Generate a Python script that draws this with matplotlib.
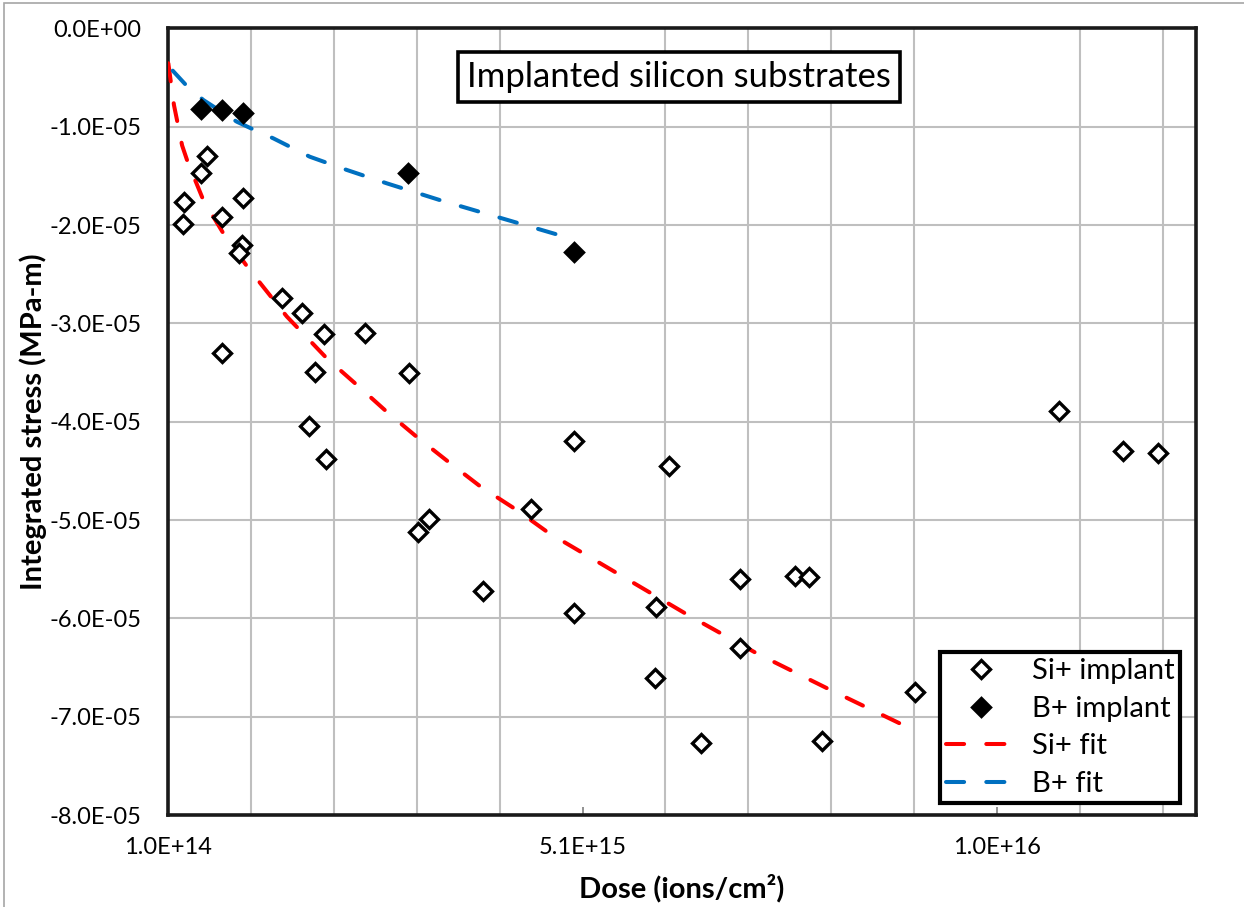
import matplotlib
matplotlib.use("Agg")
import matplotlib.pyplot as plt
from matplotlib.ticker import FixedLocator, MultipleLocator, FuncFormatter
from matplotlib.patches import Rectangle

# ---------------- data ----------------
si_dose = [2.78e14, 2.93e14, 4.95e14, 5.67e14, 7.49e14, 1.002e15, 9.90e14, 9.61e14,
           7.49e14, 1.473e15, 1.715e15, 1.976e15, 1.875e15, 2.479e15, 1.803e15, 2.005e15,
           3.002e15, 3.111e15, 3.244e15, 3.896e15, 4.484e15, 5.003e15, 4.995e15, 6.142e15,
           5.990e15, 5.973e15, 6.533e15, 7.000e15, 7.000e15, 7.660e15, 7.833e15, 7.983e15,
           9.110e15, 1.085e16, 1.1625e16, 1.204e16]
si_stress = [-1.990e-5, -1.763e-5, -1.474e-5, -1.298e-5, -1.916e-5, -1.722e-5, -2.203e-5, -2.288e-5,
             -3.305e-5, -2.746e-5, -2.895e-5, -3.109e-5, -3.492e-5, -3.102e-5, -4.045e-5, -4.377e-5,
             -3.503e-5, -5.126e-5, -4.991e-5, -5.720e-5, -4.892e-5, -4.197e-5, -5.950e-5, -4.452e-5,
             -5.883e-5, -6.611e-5, -7.266e-5, -5.601e-5, -6.306e-5, -5.568e-5, -5.584e-5, -7.246e-5,
             -6.754e-5, -3.889e-5, -4.299e-5, -4.323e-5]

b_dose = [4.95e14, 7.49e14, 1.002e15, 2.997e15, 5.00e15]
b_stress = [-0.823e-5, -0.830e-5, -0.857e-5, -1.468e-5, -2.270e-5]

si_fit_dose = [1.04e14, 1.36e14, 1.72e14, 2.20e14, 2.70e14, 3.42e14, 4.26e14, 5.26e14,
               7.68e14, 1.07e15, 1.533e15, 2.016e15, 2.38e15, 2.74e15, 3.10e15, 3.50e15,
               3.87e15, 4.31e15, 4.69e15, 6.38e15, 7.21e15, 8.095e15, 8.98e15]
si_fit_stress = [-0.355e-5, -0.556e-5, -0.780e-5, -0.980e-5, -1.190e-5, -1.370e-5, -1.540e-5, -1.746e-5,
                 -2.085e-5, -2.440e-5, -2.930e-5, -3.356e-5, -3.627e-5, -3.900e-5, -4.154e-5, -4.420e-5,
                 -4.660e-5, -4.900e-5, -5.130e-5, -5.970e-5, -6.360e-5, -6.730e-5, -7.090e-5]

b_fit_dose = [1.57e14, 3.17e14, 5.26e14, 9.30e14, 1.125e15, 1.37e15, 1.81e15, 2.258e15,
              2.74e15, 3.405e15, 4.89e15]
b_fit_stress = [-0.430e-5, -0.576e-5, -0.728e-5, -0.949e-5, -1.026e-5, -1.118e-5, -1.305e-5, -1.440e-5,
                -1.576e-5, -1.753e-5, -2.120e-5]

x_ticks = [1.0e14, 5.1e15, 1.01e16]
x_grid_step = 1.0e15
x_min, x_max = 1.0e14, 1.25e16
y_min, y_max = -8.0e-5, 0.0
y_step = 1.0e-5

title_text = "Implanted silicon substrates"
x_label = "Dose (ions/cm²)"
y_label = "Integrated stress (MPa-m)"

# ---------------- figure ----------------
FONT = ["Lato", "DejaVu Sans"]
plt.rcParams["font.family"] = FONT

W, H = 1244, 907
fig = plt.figure(figsize=(W / 100, H / 100), dpi=100)
fig.patch.set_facecolor("white")

# chart-area border (light gray)
fig.patches.append(Rectangle((4 / W, -0.01), 1.2, 1 - 3 / H + 0.01, transform=fig.transFigure,
                             fill=False, edgecolor="#A6A6A6", linewidth=1.2))

L, R, T, B = 168, 1196, 28.4, 815
ax = fig.add_axes([L / W, 1 - B / H, (R - L) / W, (B - T) / H])

ax.set_xlim(x_min, x_max)
ax.set_ylim(y_min, y_max)

# grid
ax.xaxis.set_major_locator(FixedLocator(x_ticks))
ax.xaxis.set_minor_locator(MultipleLocator(x_grid_step, offset=x_min))
ax.yaxis.set_major_locator(MultipleLocator(y_step))
ax.xaxis.set_major_formatter(FuncFormatter(lambda v, p: f"{v:.1E}"))
ax.yaxis.set_major_formatter(FuncFormatter(lambda v, p: f"{v:.1E}"))
ax.grid(True, which="minor", axis="x", color="#BFBFBF", linewidth=1.5)
ax.grid(True, which="major", axis="y", color="#BFBFBF", linewidth=1.5)
ax.set_axisbelow(True)

ax.tick_params(axis="x", which="major", direction="in", length=6, width=1.2, color="#7F7F7F",
               labelsize=17, pad=16)
ax.tick_params(axis="x", which="minor", length=0)
ax.tick_params(axis="y", which="major", length=0, labelsize=17, pad=19)

for s in ax.spines.values():
    s.set_linewidth(2.6)
    s.set_color("#1A1A1A")

lw = 2.9
ax.plot(si_dose, si_stress, linestyle="none", marker="D", ms=9, mew=2.4,
        mfc="white", mec="black", label="Si+ implant", zorder=4)
ax.plot(b_dose, b_stress, linestyle="none", marker="D", ms=9, mew=2.4,
        mfc="black", mec="black", label="B+ implant", zorder=4)
ax.plot(si_fit_dose, si_fit_stress, color="#FF0000", linewidth=lw, dashes=(4.5, 5.5),
        dash_capstyle="round", solid_capstyle="round", label="Si+ fit", zorder=3)
ax.plot(b_fit_dose, b_fit_stress, color="#0070C0", linewidth=lw, dashes=(4.5, 5.5),
        dash_capstyle="round", solid_capstyle="round", label="B+ fit", zorder=3)

ax.set_xlabel(x_label, fontsize=21, fontweight="bold", va="center")
ax.xaxis.set_label_coords(0.5, (B - 888) / (B - T))
ax.set_ylabel(y_label, fontsize=21, fontweight="bold", va="center")
ax.yaxis.set_label_coords((33 - L) / (R - L), 0.5)

ax.text((679 - L) / (R - L), (B - 77) / (B - T), title_text, transform=ax.transAxes,
        ha="center", va="center", fontsize=25, zorder=6,
        bbox=dict(boxstyle="square,pad=0.25", facecolor="white", edgecolor="black", linewidth=2.6))

leg = ax.legend(loc="lower right", bbox_to_anchor=((1180 - L) / (R - L), (B - 803) / (B - T)),
                borderaxespad=0, fontsize=21, fancybox=False, framealpha=1, edgecolor="black",
                handlelength=2.45, handletextpad=0.5, labelspacing=0.4, borderpad=0.2)
leg.get_frame().set_linewidth(3.0)
leg.set_zorder(7)

fig.savefig("out.png", dpi=100, facecolor="white")
